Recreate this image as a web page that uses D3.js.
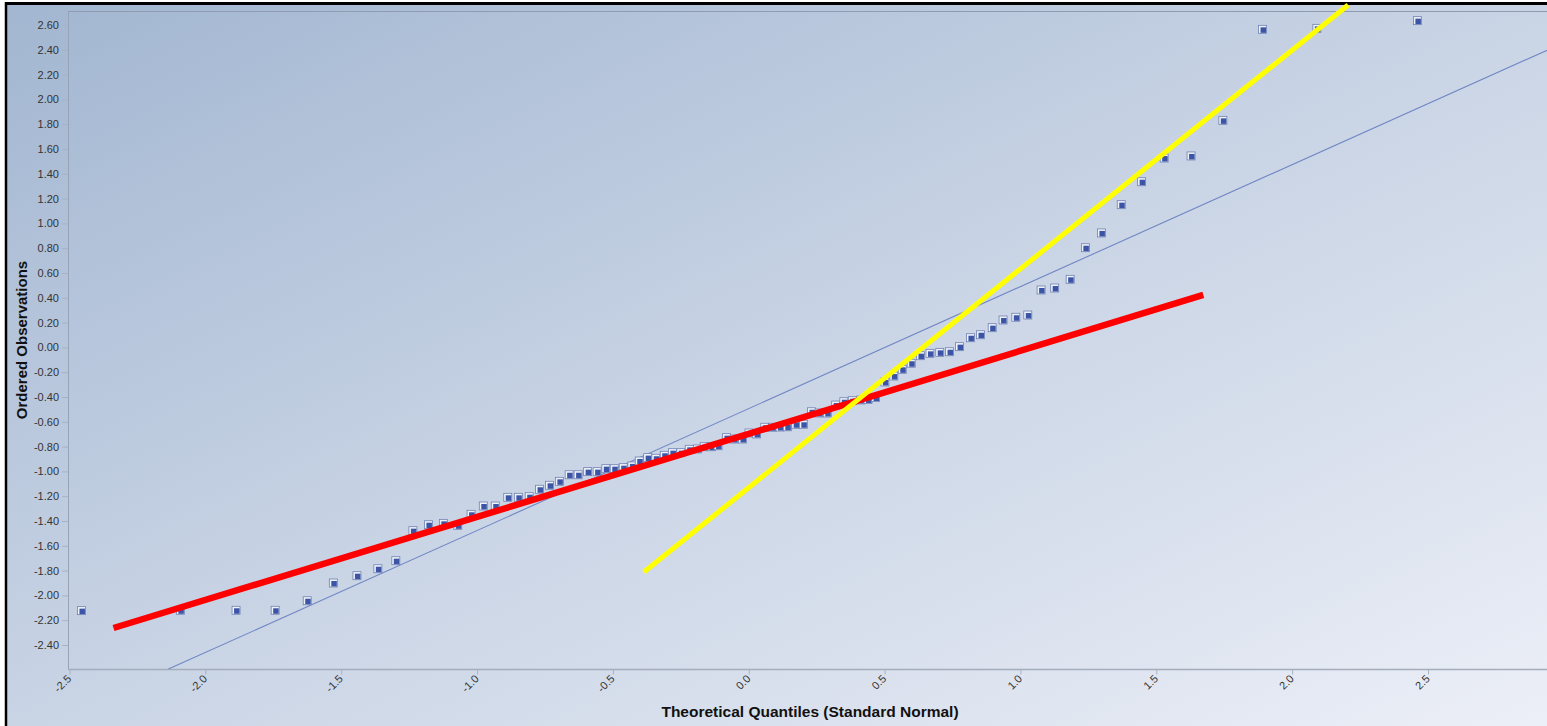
<!DOCTYPE html>
<html>
<head>
<meta charset="utf-8">
<script src="https://cdn.jsdelivr.net/npm/d3@7/dist/d3.min.js"></script>
<style>
  html, body { margin: 0; padding: 0; background: #ffffff; overflow: hidden; }
  svg { display: block; }
  text { font-family: Arial, "Liberation Sans", sans-serif; }
</style>
</head>
<body>
<svg id="chart" width="1547" height="726"></svg>
<script>
// ---- data ----
const theoreticalQuantiles = [
  -2.456, -2.092, -1.887, -1.743, -1.625, -1.529, -1.442, -1.365, -1.299, -1.236,
  -1.179, -1.124, -1.071, -1.022, -0.977, -0.933, -0.887, -0.848, -0.808, -0.770,
  -0.733, -0.697, -0.661, -0.628, -0.593, -0.558, -0.526, -0.495, -0.462, -0.430,
  -0.403, -0.372, -0.342, -0.311, -0.281, -0.250, -0.219, -0.189, -0.164, -0.137,
  -0.113, -0.082, -0.054, -0.023, 0.001, 0.029, 0.059, 0.087, 0.115, 0.142,
  0.173, 0.201, 0.231, 0.258, 0.289, 0.320, 0.350, 0.381, 0.412, 0.439,
  0.467, 0.501, 0.534, 0.565, 0.598, 0.632, 0.667, 0.703, 0.739, 0.776,
  0.816, 0.853, 0.896, 0.936, 0.983, 1.027, 1.076, 1.126, 1.183, 1.239,
  1.298, 1.371, 1.446, 1.529, 1.628, 1.745, 1.891, 2.091, 2.461
];
const orderedObservations = [
  -2.123, -2.120, -2.120, -2.120, -2.043, -1.900, -1.841, -1.785, -1.720, -1.478,
  -1.430, -1.419, -1.435, -1.346, -1.279, -1.279, -1.209, -1.209, -1.204, -1.144,
  -1.112, -1.080, -1.027, -1.027, -1.002, -1.002, -0.978, -0.978, -0.970, -0.956,
  -0.916, -0.889, -0.894, -0.870, -0.849, -0.849, -0.822, -0.819, -0.801, -0.801,
  -0.793, -0.728, -0.739, -0.739, -0.690, -0.698, -0.644, -0.644, -0.642, -0.640,
  -0.620, -0.620, -0.519, -0.529, -0.529, -0.465, -0.438, -0.430, -0.424, -0.420,
  -0.404, -0.279, -0.231, -0.177, -0.128, -0.067, -0.048, -0.040, -0.035, 0.006,
  0.078, 0.102, 0.159, 0.221, 0.243, 0.261, 0.463, 0.479, 0.549, 0.804,
  0.923, 1.151, 1.336, 1.527, 1.544, 1.831, 2.565, 2.573, 2.635
];
// reference (fitted) line endpoints [x, y]
const referenceLineX = [-2.136, 2.940];
const referenceLineY = [-2.594, 2.398];
// hand-drawn red annotation line
const redLineX = [-2.338, 1.673];
const redLineY = [-2.263, 0.423];
// hand-drawn yellow annotation line
const yellowLineX = [-0.386, 2.206];
const yellowLineY = [-1.811, 2.761];

const xTickValues = [-2.5, -2.0, -1.5, -1.0, -0.5, 0.0, 0.5, 1.0, 1.5, 2.0, 2.5];
const yTickValues = [-2.4, -2.2, -2.0, -1.8, -1.6, -1.4, -1.2, -1.0, -0.8, -0.6, -0.4, -0.2,
                     0.0, 0.2, 0.4, 0.6, 0.8, 1.0, 1.2, 1.4, 1.6, 1.8, 2.0, 2.2, 2.4, 2.6];
const xTitle = "Theoretical Quantiles (Standard Normal)";
const yTitle = "Ordered Observations";

// ---- layout ----
const W = 1547, H = 726;
const plot = { left: 68, top: 11, right: 1547, bottom: 669.5 };

const svg = d3.select("#chart");
const defs = svg.append("defs");

const bg = defs.append("linearGradient").attr("id", "bg")
  .attr("x1", "0").attr("y1", "0").attr("x2", "1").attr("y2", "1");
bg.append("stop").attr("offset", "0%").attr("stop-color", "#a2b6d1");
bg.append("stop").attr("offset", "45%").attr("stop-color", "#c5d1e3");
bg.append("stop").attr("offset", "100%").attr("stop-color", "#eceff7");

defs.append("clipPath").attr("id", "plotClip")
  .append("rect")
  .attr("x", plot.left).attr("y", plot.top)
  .attr("width", plot.right - plot.left).attr("height", plot.bottom - plot.top);

// background
svg.append("rect").attr("x", 0).attr("y", 0).attr("width", W).attr("height", H).attr("fill", "#ffffff");
svg.append("rect").attr("x", 5).attr("y", 2).attr("width", W - 5).attr("height", H - 2).attr("fill", "url(#bg)");
// black frame (top & left)
svg.append("line").attr("x1", 5).attr("y1", 3.5).attr("x2", W).attr("y2", 3.5)
  .attr("stroke", "#000").attr("stroke-width", 3);
svg.append("line").attr("x1", 6).attr("y1", 2).attr("x2", 6).attr("y2", H)
  .attr("stroke", "#000").attr("stroke-width", 2.5);

const x = d3.scaleLinear().domain([-2.5, 2.5]).range([69.5, 1428]);
const y = d3.scaleLinear().domain([-2.4, 2.6]).range([645, 25]);

// plot border (top)
svg.append("line").attr("x1", plot.left).attr("x2", plot.right)
  .attr("y1", plot.top + 0.5).attr("y2", plot.top + 0.5)
  .attr("stroke", "#8e9bb0").attr("stroke-width", 1);

// axes
const yAxis = d3.axisLeft(y).tickValues(yTickValues).tickSize(6).tickPadding(3)
  .tickFormat(d3.format(".2f"));
const yG = svg.append("g").attr("transform", `translate(${plot.left},0)`).call(yAxis);
yG.select(".domain").remove();
yG.append("line").attr("x1", 0.5).attr("x2", 0.5).attr("y1", plot.top).attr("y2", plot.bottom)
  .attr("stroke", "#98a3b5");
yG.selectAll(".tick line").attr("stroke", "#a8b2c2");
yG.selectAll(".tick text").attr("fill", "#333").attr("font-size", 11)
  .attr("font-family", "Arial, 'Liberation Sans', sans-serif")
  .text(d => d3.format(".2f")(d).replace("−", "-"));

const xAxis = d3.axisBottom(x).tickValues(xTickValues).tickSize(5).tickFormat(d3.format(".1f"));
const xG = svg.append("g").attr("transform", `translate(0,${plot.bottom})`).call(xAxis);
xG.select(".domain").remove();
xG.append("line").attr("x1", plot.left).attr("x2", plot.right).attr("y1", 0).attr("y2", 0)
  .attr("stroke", "#a4adbc").attr("stroke-width", 1.5);
xG.selectAll(".tick line").attr("stroke", "#a8b2c2");
xG.selectAll(".tick text")
  .attr("fill", "#333").attr("font-size", 11)
  .attr("font-family", "Arial, 'Liberation Sans', sans-serif")
  .text(d => d3.format(".1f")(d).replace("−", "-"))
  .attr("text-anchor", "end")
  .attr("dy", "0")
  .attr("y", 0)
  .attr("x", 0)
  .attr("transform", "translate(2,10) rotate(-45)");

// titles
svg.append("text").attr("x", 810).attr("y", 717)
  .attr("text-anchor", "middle").attr("font-size", 15.5).attr("font-weight", "bold")
  .attr("fill", "#111").text(xTitle);
svg.append("text")
  .attr("transform", `translate(27,340) rotate(-90)`)
  .attr("text-anchor", "middle").attr("font-size", 15).attr("font-weight", "bold")
  .attr("fill", "#111").text(yTitle);

// plotted content (clipped)
const inner = svg.append("g").attr("clip-path", "url(#plotClip)");

const line = d3.line().x(d => x(d[0])).y(d => y(d[1]));
inner.append("path")
  .datum(d3.zip(referenceLineX, referenceLineY))
  .attr("d", line).attr("fill", "none")
  .attr("stroke", "#7186c4").attr("stroke-width", 1.1);

const pts = d3.zip(theoreticalQuantiles, orderedObservations);
const marker = inner.selectAll("g.pt").data(pts).join("g")
  .attr("class", "pt")
  .attr("transform", d => `translate(${x(d[0])},${y(d[1])})`);
marker.append("rect").attr("x", -4).attr("y", -4).attr("width", 8).attr("height", 8)
  .attr("fill", "#eef2fa").attr("stroke", "#6f80b2").attr("stroke-width", 0.8);
marker.append("rect").attr("x", -2).attr("y", -2).attr("width", 5.5).attr("height", 5.5)
  .attr("fill", "#3b54a5");

// annotation lines (drawn on top, not clipped)
svg.append("path").datum(d3.zip(redLineX, redLineY))
  .attr("d", line).attr("fill", "none")
  .attr("stroke", "#ff0000").attr("stroke-width", 6.5);
svg.append("path").datum(d3.zip(yellowLineX, yellowLineY))
  .attr("d", line).attr("fill", "none")
  .attr("stroke", "#ffff00").attr("stroke-width", 5);
</script>
</body>
</html>
